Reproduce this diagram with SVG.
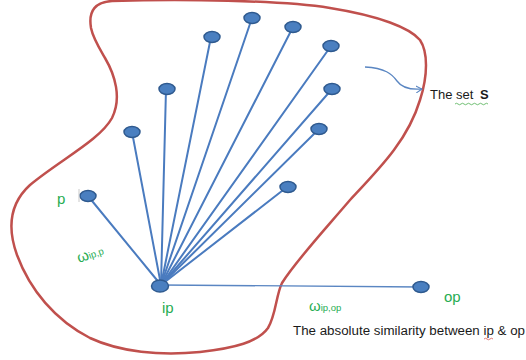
<svg xmlns="http://www.w3.org/2000/svg" width="526" height="360" viewBox="0 0 526 360">
  <style>
    .edge { stroke: #4a7bbf; stroke-width: 2; fill: none; stroke-linecap: round; }
    .edge-thin { stroke: #5a86c2; stroke-width: 1.3; fill: none; }
    .node { fill: #4a7fc0; stroke: #2f5a8f; stroke-width: 1.5; }
    .lbl { font-family: "Liberation Sans", Arial, sans-serif; fill: #27ad52; }
    .note { font-family: "Liberation Sans", Arial, sans-serif; fill: #1a1a1a; }
  </style>
  <defs>
    <marker id="open-head" markerWidth="8" markerHeight="8" refX="6" refY="4" orient="auto" markerUnits="userSpaceOnUse">
      <path d="M0,0.5 L6,4 L0,7.5" fill="none" stroke="#5a86c2" stroke-width="1"/>
    </marker>
  </defs>

  <rect width="526" height="360" fill="#ffffff"/>

  <!-- set boundary -->
  <path id="set-boundary" d="M 91,28 C 88,10 96,2 112,1 C 180,-1 280,0 330,8 C 380,16 410,28 420,40 C 428,52 428,75 420,100 C 408,140 380,168 350,200 C 320,235 295,262 282,283 C 276,295 276,315 268,328 C 258,342 235,348 200,352 C 160,356 120,352 90,338 C 55,320 30,290 17,255 C 8,230 8,205 30,185 C 60,160 100,140 112,118 C 122,98 115,75 105,58 C 98,46 93,38 91,28 Z" fill="none" stroke="#c0504d" stroke-width="2.5"/>

  <!-- connectors -->
  <g id="connectors">
    <line class="edge" x1="161" y1="285" x2="88" y2="196"/>
    <line class="edge" x1="161" y1="285" x2="132" y2="132"/>
    <line class="edge" x1="161" y1="285" x2="166" y2="89"/>
    <line class="edge" x1="161" y1="285" x2="211" y2="37"/>
    <line class="edge" x1="161" y1="285" x2="252" y2="18"/>
    <line class="edge" x1="161" y1="285" x2="293" y2="27"/>
    <line class="edge" x1="161" y1="285" x2="331" y2="46"/>
    <line class="edge" x1="161" y1="285" x2="332" y2="89"/>
    <line class="edge" x1="161" y1="285" x2="319" y2="129"/>
    <line class="edge" x1="161" y1="285" x2="287" y2="187"/>
    <line class="edge-thin" x1="161" y1="285" x2="421" y2="287"/>
    <path class="edge-thin" stroke-width="1" d="M 365,67 C 385,68 392,74 397,81 C 402,88 410,90 422,89" marker-end="url(#open-head)"/>
  </g>

  <!-- nodes -->
  <g id="node-p"><ellipse class="node" cx="88" cy="196" rx="8" ry="5.5"/></g>
  <g id="node-1"><ellipse class="node" cx="132" cy="132" rx="8" ry="5.5"/></g>
  <g id="node-2"><ellipse class="node" cx="167" cy="89" rx="8" ry="5.5"/></g>
  <g id="node-3"><ellipse class="node" cx="212" cy="37" rx="8" ry="5.5"/></g>
  <g id="node-4"><ellipse class="node" cx="252" cy="18" rx="8" ry="5.5"/></g>
  <g id="node-5"><ellipse class="node" cx="293" cy="27" rx="8" ry="5.5"/></g>
  <g id="node-6"><ellipse class="node" cx="331" cy="46" rx="8" ry="5.5"/></g>
  <g id="node-7"><ellipse class="node" cx="332" cy="89" rx="8" ry="5.5"/></g>
  <g id="node-8"><ellipse class="node" cx="319" cy="129" rx="8" ry="5.5"/></g>
  <g id="node-9"><ellipse class="node" cx="288" cy="187" rx="8" ry="5.5"/></g>
  <g id="node-ip"><ellipse class="node" cx="160" cy="286" rx="8.5" ry="6"/></g>
  <g id="node-op"><ellipse class="node" cx="421" cy="287" rx="8" ry="5.5"/></g>

  <!-- labels -->
  <line x1="79" y1="189" x2="79" y2="202" stroke="#c8c8c8" stroke-width="1"/>
  <text class="lbl" x="57" y="204" font-size="15">p</text>
  <text class="lbl" x="162" y="313" font-size="15">ip</text>
  <text class="lbl" x="444" y="302" font-size="15">op</text>
  <text class="lbl" transform="translate(79,263) rotate(-20)" font-size="15">ω<tspan font-size="9.5">ip,p</tspan></text>
  <text class="lbl" x="309" y="311" font-size="15">ω<tspan font-size="9.5">ip,op</tspan></text>

  <text class="note" x="430" y="99" font-size="13">The set <tspan font-weight="bold" dx="3">S</tspan></text>
  <path d="M 455,104 q 1.5,-1.5 3,0 t 3,0 t 3,0 t 3,0 t 3,0 t 3,0 t 3,0 t 3,0 t 3,0 t 3,0 t 3,0" fill="none" stroke="#4caf50" stroke-width="0.8"/>

  <text class="note" x="293" y="335" font-size="12" textLength="232" lengthAdjust="spacingAndGlyphs">The absolute similarity between ip &amp; op</text>
  <path d="M 484,339 q 1.5,-1.5 3,0 t 3,0 t 3,0" fill="none" stroke="#d9534f" stroke-width="0.8"/>
</svg>
